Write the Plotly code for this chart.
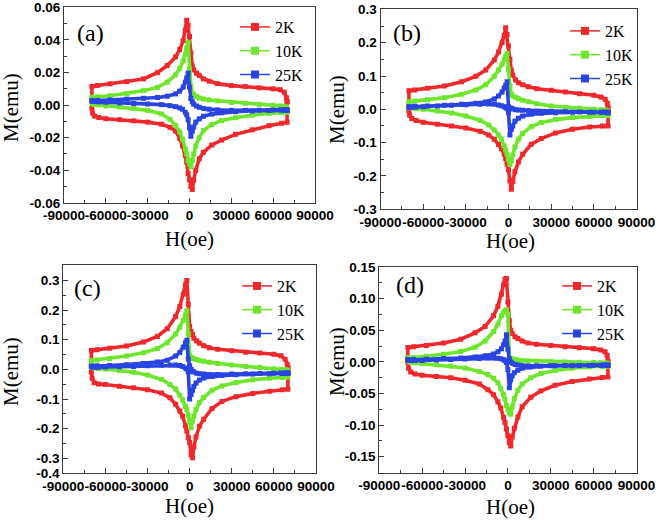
import plotly.graph_objects as go

# Field grid: upper branch (field sweeping down) and lower branch (field sweeping up)
H_dn = [70000, 69500, 68000, 65000, 60000, 50000, 40000, 30000, 20000, 14000,
        10000, 7000, 5000, 3000, 2000, 1000, 0, -1000, -2000, -3000,
        -4500, -7000, -10000, -16000, -23000, -33000, -45000, -57000, -66000, -70000]
H_up = [-70000, -69500, -68000, -65000, -60000, -50000, -40000, -30000, -20000, -14000,
        -10000, -7000, -5000, -3000, -2000, -1000, 0, 1000, 2000, 3000,
        4500, 7000, 10000, 16000, 23000, 33000, 45000, 57000, 66000, 70000]

temps = ["2K", "10K", "25K"]
panel_labels = ["(a)", "(b)", "(c)", "(d)"]

# ---- panel (a) ----
a_2K_dn = [0.0020, 0.0045, 0.0078, 0.0094, 0.0099, 0.0105, 0.0113, 0.0119, 0.0131, 0.0146,
           0.0160, 0.0182, 0.0195, 0.0215, 0.0240, 0.0320, 0.0420, 0.0490, 0.0520, 0.0460,
           0.0395, 0.0340, 0.0295, 0.0242, 0.0198, 0.0160, 0.0143, 0.0130, 0.0120, 0.0114]
a_2K_up = [-0.0020, -0.0050, -0.0068, -0.0077, -0.0084, -0.0090, -0.0097, -0.0105, -0.0118, -0.0137,
           -0.0160, -0.0205, -0.0250, -0.0310, -0.0350, -0.0420, -0.0460, -0.0500, -0.0518, -0.0460,
           -0.0400, -0.0330, -0.0290, -0.0245, -0.0215, -0.0180, -0.0152, -0.0127, -0.0112, -0.0106]
a_10K_dn = [-0.0030, -0.0012, -0.0008, -0.0006, -0.0002, 0.0004, 0.0010, 0.0016, 0.0025, 0.0031,
            0.0037, 0.0043, 0.0052, 0.0062, 0.0075, 0.0110, 0.0220, 0.0384, 0.0350, 0.0310,
            0.0270, 0.0225, 0.0185, 0.0140, 0.0108, 0.0088, 0.0071, 0.0057, 0.0050, 0.0048]
a_10K_up = [0.0020, 0.0008, 0.0004, 0.0001, -0.0006, -0.0012, -0.0021, -0.0033, -0.0055, -0.0088,
            -0.0125, -0.0165, -0.0210, -0.0270, -0.0300, -0.0340, -0.0360, -0.0380, -0.0340, -0.0300,
            -0.0250, -0.0200, -0.0157, -0.0120, -0.0095, -0.0078, -0.0062, -0.0052, -0.0047, -0.0045]
a_25K_dn = [-0.0033, -0.0031, -0.0030, -0.0030, -0.0031, -0.0032, -0.0033, -0.0033, -0.0030, -0.0026,
            -0.0021, -0.0014, -0.0006, 0.0005, 0.0020, 0.0040, 0.0110, 0.0196, 0.0165, 0.0140,
            0.0110, 0.0085, 0.0068, 0.0054, 0.0046, 0.0041, 0.0036, 0.0031, 0.0028, 0.0027]
a_25K_up = [0.0025, 0.0022, 0.0021, 0.0020, 0.0017, 0.0013, 0.0009, 0.0006, 0.0002, -0.0004,
            -0.0010, -0.0018, -0.0026, -0.0045, -0.0060, -0.0090, -0.0140, -0.0192, -0.0160, -0.0135,
            -0.0105, -0.0085, -0.0069, -0.0056, -0.0048, -0.0041, -0.0037, -0.0034, -0.0032, -0.0031]

# ---- panel (b) ----
b_2K_dn = [0.005, 0.018, 0.030, 0.037, 0.042, 0.047, 0.052, 0.057, 0.062, 0.068,
           0.074, 0.080, 0.088, 0.103, 0.117, 0.150, 0.190, 0.225, 0.245, 0.222,
           0.200, 0.172, 0.148, 0.118, 0.099, 0.083, 0.070, 0.063, 0.058, 0.056]
b_2K_up = [-0.005, -0.018, -0.028, -0.034, -0.039, -0.045, -0.050, -0.056, -0.066, -0.077,
           -0.090, -0.106, -0.118, -0.135, -0.148, -0.165, -0.182, -0.215, -0.240, -0.217,
           -0.188, -0.158, -0.135, -0.105, -0.088, -0.071, -0.060, -0.053, -0.050, -0.050]
b_10K_dn = [-0.012, -0.004, -0.002, -0.001, 0.000, 0.003, 0.006, 0.010, 0.017, 0.023,
            0.027, 0.032, 0.036, 0.040, 0.045, 0.070, 0.120, 0.168, 0.160, 0.150,
            0.135, 0.118, 0.099, 0.074, 0.058, 0.045, 0.035, 0.029, 0.025, 0.023]
b_10K_up = [0.012, 0.006, 0.004, 0.002, 0.000, -0.005, -0.011, -0.020, -0.033, -0.047,
            -0.062, -0.077, -0.090, -0.110, -0.122, -0.135, -0.150, -0.166, -0.155, -0.137,
            -0.113, -0.090, -0.072, -0.052, -0.040, -0.031, -0.025, -0.021, -0.019, -0.019]
b_25K_dn = [-0.010, -0.009, -0.009, -0.009, -0.0085, -0.008, -0.0075, -0.0068, -0.0055, -0.0045,
            -0.003, -0.002, -0.001, 0.001, 0.003, 0.004, 0.008, 0.083, 0.072, 0.064,
            0.052, 0.040, 0.031, 0.022, 0.018, 0.015, 0.012, 0.010, 0.009, 0.008]
b_25K_up = [0.007, 0.006, 0.006, 0.007, 0.008, 0.010, 0.012, 0.014, 0.015, 0.016,
            0.015, 0.013, 0.011, 0.008, 0.006, 0.002, -0.010, -0.077, -0.060, -0.050,
            -0.036, -0.027, -0.020, -0.015, -0.012, -0.010, -0.009, -0.009, -0.009, -0.009]

# ---- panel (c) ----
c_2K_dn = [0.005, 0.017, 0.034, 0.046, 0.051, 0.055, 0.058, 0.063, 0.068, 0.073,
           0.080, 0.088, 0.096, 0.105, 0.118, 0.128, 0.145, 0.220, 0.300, 0.285,
           0.253, 0.212, 0.178, 0.137, 0.111, 0.092, 0.079, 0.071, 0.066, 0.064]
c_2K_up = [-0.010, -0.030, -0.045, -0.049, -0.051, -0.057, -0.062, -0.069, -0.080, -0.096,
           -0.118, -0.140, -0.158, -0.190, -0.208, -0.230, -0.247, -0.288, -0.298, -0.262,
           -0.228, -0.192, -0.168, -0.132, -0.108, -0.092, -0.081, -0.074, -0.069, -0.067]
c_10K_dn = [-0.012, -0.002, -0.001, 0.000, 0.002, 0.006, 0.010, 0.015, 0.020, 0.024,
            0.027, 0.030, 0.033, 0.036, 0.038, 0.040, 0.048, 0.120, 0.198, 0.183,
            0.166, 0.142, 0.119, 0.090, 0.070, 0.056, 0.045, 0.037, 0.032, 0.030]
c_10K_up = [0.015, 0.007, 0.005, 0.003, 0.001, -0.004, -0.010, -0.019, -0.034, -0.051,
            -0.066, -0.087, -0.103, -0.125, -0.136, -0.155, -0.178, -0.197, -0.175, -0.158,
            -0.135, -0.112, -0.095, -0.070, -0.056, -0.044, -0.035, -0.030, -0.027, -0.026]
c_25K_dn = [-0.013, -0.012, -0.012, -0.012, -0.013, -0.014, -0.015, -0.016, -0.017, -0.017,
            -0.016, -0.015, -0.013, -0.009, -0.006, 0.000, 0.012, 0.035, 0.098, 0.090,
            0.075, 0.057, 0.045, 0.031, 0.025, 0.020, 0.016, 0.013, 0.012, 0.011]
c_25K_up = [0.010, 0.008, 0.007, 0.007, 0.008, 0.009, 0.010, 0.012, 0.014, 0.015,
            0.015, 0.013, 0.010, 0.005, 0.001, -0.008, -0.100, -0.085, -0.070, -0.058,
            -0.046, -0.036, -0.029, -0.024, -0.021, -0.018, -0.016, -0.015, -0.014, -0.013]

# ---- panel (d) ----
d_2K_dn = [0.001, 0.010, 0.016, 0.019, 0.021, 0.0225, 0.024, 0.026, 0.028, 0.030,
           0.033, 0.037, 0.040, 0.045, 0.050, 0.065, 0.095, 0.132, 0.131, 0.122,
           0.107, 0.088, 0.073, 0.056, 0.046, 0.036, 0.030, 0.026, 0.024, 0.023]
d_2K_up = [-0.001, -0.010, -0.016, -0.019, -0.021, -0.023, -0.025, -0.029, -0.035, -0.044,
           -0.052, -0.063, -0.073, -0.088, -0.096, -0.106, -0.117, -0.128, -0.133, -0.119,
           -0.105, -0.087, -0.071, -0.056, -0.046, -0.037, -0.031, -0.027, -0.0245, -0.0237]
d_10K_dn = [-0.006, -0.002, -0.0016, -0.0014, -0.0010, -0.0005, 0.0000, 0.0005, 0.0010, 0.0015,
            0.0020, 0.0028, 0.0038, 0.0048, 0.0053, 0.0060, 0.0750, 0.0826, 0.0810, 0.0790,
            0.0730, 0.0600, 0.0480, 0.0330, 0.0232, 0.0165, 0.0120, 0.0090, 0.0070, 0.0063]
d_10K_up = [0.006, 0.001, -0.0005, -0.0015, -0.0025, -0.0045, -0.0065, -0.0095, -0.0150, -0.0200,
            -0.0260, -0.0330, -0.0420, -0.0520, -0.0590, -0.0690, -0.0750, -0.0810, -0.0830, -0.0710,
            -0.0580, -0.0450, -0.0350, -0.0250, -0.0184, -0.0135, -0.0100, -0.0080, -0.0072, -0.0068]
d_25K_dn = [-0.0055, -0.0050, -0.0050, -0.0051, -0.0052, -0.0055, -0.0058, -0.0062, -0.0066, -0.0066,
            -0.0060, -0.0050, -0.0040, -0.0020, 0.0000, 0.0050, 0.0200, 0.0430, 0.0330, 0.0270,
            0.0210, 0.0160, 0.0125, 0.0098, 0.0079, 0.0063, 0.0053, 0.0043, 0.0039, 0.0037]
d_25K_up = [0.0030, 0.0022, 0.0021, 0.0022, 0.0024, 0.0030, 0.0038, 0.0046, 0.0055, 0.0061,
            0.0062, 0.0058, 0.0050, 0.0035, 0.0020, -0.0010, -0.0120, -0.0410, -0.0280, -0.0220,
            -0.0170, -0.0130, -0.0100, -0.0082, -0.0068, -0.0062, -0.0059, -0.0056, -0.0054, -0.0053]

# y-axis ticks per panel
a_ytickvals = [-0.06, -0.04, -0.02, 0.0, 0.02, 0.04, 0.06]
a_yticktext = ["-0.06", "-0.04", "-0.02", "0.00", "0.02", "0.04", "0.06"]
b_ytickvals = [-0.3, -0.2, -0.1, 0.0, 0.1, 0.2, 0.3]
b_yticktext = ["-0.3", "-0.2", "-0.1", "0.0", "0.1", "0.2", "0.3"]
c_ytickvals = [-0.35, -0.3, -0.2, -0.1, 0.0, 0.1, 0.2, 0.3]
c_yticktext = ["-0.4", "-0.3", "-0.2", "-0.1", "0.0", "0.1", "0.2", "0.3"]
d_ytickvals = [-0.15, -0.10, -0.05, 0.0, 0.05, 0.10, 0.15]
d_yticktext = ["-0.15", "-0.10", "-0.05", "0.00", "0.05", "0.10", "0.15"]
x_tickvals = [-90000, -60000, -30000, 0, 30000, 60000, 90000]
x_ticktext = ["-90000", "-60000", "-30000", "0", "30000", "60000", "90000"]

panels = [
    dict(series=[(a_2K_dn, a_2K_up), (a_10K_dn, a_10K_up), (a_25K_dn, a_25K_up)],
         yrange=[-0.0601, 0.0601], yt=(a_ytickvals, a_yticktext), ydminor=0.01,
         xdom=[64 / 661, 315 / 661], ydom=[1 - 203 / 520, 1 - 7 / 520],
         label_xy=(90, 33), leg_xy=(235, 10), xt_xy=(189, 239), yt_xy=(11, 108)),
    dict(series=[(b_2K_dn, b_2K_up), (b_10K_dn, b_10K_up), (b_25K_dn, b_25K_up)],
         yrange=[-0.3005, 0.3005], yt=(b_ytickvals, b_yticktext), ydminor=0.05,
         xdom=[380.5 / 661, 636.5 / 661], ydom=[1 - 209.3 / 520, 1 - 9.3 / 520],
         label_xy=(407, 33), leg_xy=(565, 14), xt_xy=(510, 241), yt_xy=(337, 110)),
    dict(series=[(c_2K_dn, c_2K_up), (c_10K_dn, c_10K_up), (c_25K_dn, c_25K_up)],
         yrange=[-0.3505, 0.353], yt=(c_ytickvals, c_yticktext), ydminor=0.05,
         xdom=[63.3 / 661, 316 / 661], ydom=[1 - 473.3 / 520, 1 - 264.7 / 520],
         label_xy=(87, 288), leg_xy=(237, 269), xt_xy=(190, 506), yt_xy=(11, 372)),
    dict(series=[(d_2K_dn, d_2K_up), (d_10K_dn, d_10K_up), (d_25K_dn, d_25K_up)],
         yrange=[-0.175, 0.1502], yt=(d_ytickvals, d_yticktext), ydminor=0.025,
         xdom=[379.3 / 661, 636.5 / 661], ydom=[1 - 472.5 / 520, 1 - 267 / 520],
         label_xy=(410, 285), leg_xy=(557, 269), xt_xy=(510, 507), yt_xy=(337, 362)),
]

colors = ["#F0282C", "#6FE62E", "#2A44E2"]
W, Hh = 661, 520
sans = "Liberation Sans, Arial, sans-serif"
serif = "Liberation Serif, Times New Roman, serif"

fig = go.Figure()
layout = dict(width=W, height=Hh, margin=dict(l=0, r=0, t=0, b=0, autoexpand=False),
              paper_bgcolor="white", plot_bgcolor="white", showlegend=True)
annotations = []

for i, p in enumerate(panels):
    k = "" if i == 0 else str(i + 1)
    xa, ya = "x" + k, "y" + k
    leg = "legend" + k
    for (dn, up), name, col in zip(p["series"], temps, colors):
        xs = H_dn + H_up + [H_dn[0]]
        ys = dn + up + [dn[0]]
        fig.add_trace(go.Scatter(x=xs, y=ys, xaxis=xa, yaxis=ya, mode="lines+markers",
                                 line=dict(color=col, width=3.6),
                                 marker=dict(symbol="square", size=5, color=col, line=dict(width=0)),
                                 showlegend=False, hoverinfo="skip"))
    for name, col in zip(temps, colors):
        fig.add_trace(go.Scatter(x=[None], y=[None], xaxis=xa, yaxis=ya, mode="lines+markers",
                                 name=name, legend=leg,
                                 line=dict(color=col, width=1.5),
                                 marker=dict(symbol="square", size=8, color=col, line=dict(width=0))))
    axcommon = dict(showline=True, mirror=True, linecolor="#3a3a3a", linewidth=1,
                    ticks="inside", ticklen=5, tickwidth=1, tickcolor="#3a3a3a",
                    showgrid=False, zeroline=False, automargin=False,
                    ticklabeloverflow="allow",
                    tickfont=dict(family=sans, size=13.5, color="black", weight="bold"))
    layout["xaxis" + k] = dict(axcommon, domain=p["xdom"], anchor=ya, range=[-90000, 90000],
                               tickmode="array", tickvals=x_tickvals, ticktext=x_ticktext,
                               tickangle=0,
                               minor=dict(ticks="inside", ticklen=3, tickcolor="#3a3a3a", dtick=15000, tick0=0))
    layout["yaxis" + k] = dict(axcommon, domain=p["ydom"], anchor=xa, range=p["yrange"],
                               tickmode="array", tickvals=p["yt"][0], ticktext=p["yt"][1],
                               minor=dict(ticks="inside", ticklen=3, tickcolor="#3a3a3a",
                                          dtick=p["ydminor"], tick0=0))
    lx, ly = p["leg_xy"]
    layout[leg] = dict(x=lx / W, y=1 - ly / Hh, xanchor="left", yanchor="top",
                       bgcolor="rgba(0,0,0,0)", borderwidth=0,
                       font=dict(family=serif, size=16, color="black"),
                       tracegroupgap=0, itemwidth=30)
    px, py = p["label_xy"]
    annotations.append(dict(text=panel_labels[i], x=px / W, y=1 - py / Hh, xref="paper", yref="paper",
                            showarrow=False, xanchor="center", yanchor="middle",
                            font=dict(family=serif, size=24, color="black")))
    tx, ty = p["xt_xy"]
    annotations.append(dict(text="H(oe)", x=tx / W, y=1 - ty / Hh, xref="paper", yref="paper",
                            showarrow=False, xanchor="center", yanchor="middle",
                            font=dict(family=serif, size=21, color="black")))
    mx, my = p["yt_xy"]
    annotations.append(dict(text="M(emu)", x=mx / W, y=1 - my / Hh, xref="paper", yref="paper",
                            showarrow=False, xanchor="center", yanchor="middle", textangle=-90,
                            font=dict(family=serif, size=21, color="black")))

layout["annotations"] = annotations
fig.update_layout(**layout)
fig.write_html("out.html", config={"displayModeBar": False},
               post_script="document.body.style.margin='0px';")
